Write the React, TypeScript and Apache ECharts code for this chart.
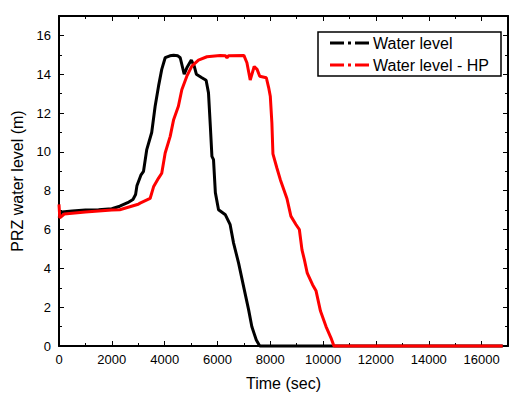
import React, { useEffect, useRef } from "react";
import * as echarts from "echarts";

const blackTime = [0, 100, 500, 1000, 1500, 2000, 2300, 2600, 2800, 2900, 2950, 3100, 3200, 3320, 3510, 3640, 3770, 3890, 4020, 4200, 4340, 4500, 4590, 4740, 4840, 5010, 5120, 5200, 5410, 5570, 5660, 5730, 5790, 5850, 5920, 6040, 6300, 6480, 6610, 6800, 6990, 7180, 7300, 7470, 7600, 16800];
const blackVal = [6.6, 6.9, 6.95, 7.0, 7.02, 7.07, 7.2, 7.38, 7.55, 7.8, 8.25, 8.8, 9.0, 10.1, 11.0, 12.35, 13.4, 14.25, 14.85, 14.95, 14.98, 14.95, 14.85, 14.0, 14.33, 14.73, 14.42, 14.0, 13.82, 13.69, 13.04, 11.32, 9.77, 9.6, 7.9, 7.02, 6.76, 6.25, 5.3, 4.27, 3.06, 1.86, 1.0, 0.31, 0, 0];

const redTime = [0, 30, 200, 1000, 2000, 2300, 3000, 3070, 3450, 3580, 3770, 3890, 4020, 4210, 4340, 4520, 4650, 4840, 5030, 5280, 5600, 6100, 6300, 6360, 6420, 7000, 7115, 7240, 7390, 7500, 7600, 7850, 7940, 8000, 8060, 8100, 8250, 8380, 8630, 8780, 8970, 9100, 9200, 9290, 9400, 9600, 9730, 9900, 10110, 10300, 10410, 16800];
const redVal = [7.3, 6.6, 6.8, 6.9, 7.0, 7.02, 7.3, 7.36, 7.6, 8.2, 8.65, 8.9, 9.94, 10.8, 11.66, 12.35, 13.2, 13.9, 14.42, 14.73, 14.9, 14.97, 14.95, 14.85, 14.95, 14.97, 14.59, 13.7, 14.4, 14.25, 13.9, 13.82, 13.3, 12.87, 11.5, 9.9, 9.17, 8.57, 7.6, 6.69, 6.26, 6.0, 4.95, 4.45, 3.75, 3.16, 2.85, 1.8, 1.0, 0.41, 0, 0];

const seriesNames = ["Water level", "Water level - HP"];
const seriesColors = ["#000000", "#ff0000"];
const xTitle = "Time (sec)";
const yTitle = "PRZ water level (m)";

const FONT = "Arial, 'Liberation Sans', sans-serif";

export default function App() {
  const ref = useRef<HTMLDivElement>(null);
  useEffect(() => {
    document.body.style.margin = "0";
    const chart = echarts.init(ref.current!, null, { renderer: "svg" });
    const pairs = (t: number[], v: number[]) => t.map((x, i) => [x, v[i]]);
    const axisCommon = {
      axisLine: { show: true, onZero: false, lineStyle: { color: "#000", width: 2 } },
      axisTick: { show: true, inside: true, length: 5, lineStyle: { color: "#000", width: 1 } },
      minorTick: { show: true, splitNumber: 2, length: 3, lineStyle: { color: "#000", width: 1 } },
      splitLine: { show: false },
      minorSplitLine: { show: false },
    };
    const legendY = [43, 65];
    const graphics: any[] = [
      {
        type: "rect",
        shape: { x: 318, y: 32, width: 183, height: 44 },
        style: { fill: "#fff", stroke: "#000", lineWidth: 1.5 },
        z: 100,
      },
    ];
    seriesNames.forEach((name, i) => {
      graphics.push({
        type: "line",
        shape: { x1: 330, y1: legendY[i], x2: 371, y2: legendY[i] },
        style: { stroke: seriesColors[i], lineWidth: 3, lineDash: [14, 4, 3, 4] },
        z: 101,
      });
      graphics.push({
        type: "text",
        x: 373,
        y: legendY[i],
        style: { text: name, fill: "#000", font: `16px ${FONT}`, verticalAlign: "middle", align: "left" },
        z: 101,
      });
    });
    chart.setOption({
      animation: false,
      backgroundColor: "#fff",
      grid: { left: 59, right: 20, top: 16, bottom: 60, containLabel: false },
      xAxis: [
        {
          type: "value",
          min: 0,
          max: 17000,
          interval: 2000,
          position: "bottom",
          name: xTitle,
          nameLocation: "middle",
          nameGap: 29,
          nameTextStyle: { color: "#000", fontSize: 16, fontFamily: FONT },
          axisLabel: {
            color: "#000",
            fontSize: 13,
            fontFamily: FONT,
            margin: 7,
            showMaxLabel: false,
            formatter: (v: number) => String(v),
          },
          ...axisCommon,
        },
        {
          type: "value",
          min: 0,
          max: 17000,
          interval: 2000,
          position: "top",
          axisLabel: { show: false },
          ...axisCommon,
        },
      ],
      yAxis: [
        {
          type: "value",
          min: 0,
          max: 17,
          interval: 2,
          position: "left",
          name: yTitle,
          nameLocation: "middle",
          nameGap: 31,
          nameRotate: 90,
          nameTextStyle: { color: "#000", fontSize: 16, fontFamily: FONT },
          axisLabel: {
            color: "#000",
            fontSize: 13,
            fontFamily: FONT,
            margin: 8,
            showMaxLabel: false,
            formatter: (v: number) => String(v),
          },
          ...axisCommon,
        },
        {
          type: "value",
          min: 0,
          max: 17,
          interval: 2,
          position: "right",
          axisLabel: { show: false },
          ...axisCommon,
        },
      ],
      series: [
        {
          name: seriesNames[0],
          type: "line",
          data: pairs(blackTime, blackVal),
          showSymbol: false,
          clip: false,
          lineStyle: { color: seriesColors[0], width: 3 },
          z: 2,
        },
        {
          name: seriesNames[1],
          type: "line",
          data: pairs(redTime, redVal),
          showSymbol: false,
          clip: false,
          lineStyle: { color: seriesColors[1], width: 3 },
          z: 3,
        },
      ],
      graphic: graphics,
    });
    return () => chart.dispose();
  }, []);
  return <div ref={ref} style={{ width: 528, height: 406 }} />;
}
